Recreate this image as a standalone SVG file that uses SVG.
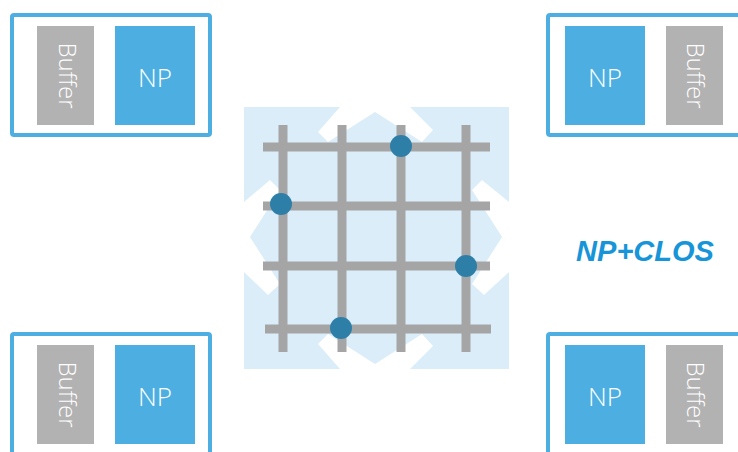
<svg xmlns="http://www.w3.org/2000/svg" width="738" height="452" viewBox="0 0 738 452">
<style>
.frame{fill:none;stroke:#4DAFE1;stroke-width:4}
.np{fill:#4DAFE1}
.buf{fill:#B2B2B2}
.t{fill:#fff;font-family:"Open Sans","DejaVu Sans",sans-serif;font-weight:300;text-anchor:middle}
.nptxt{font-size:26px}
.buftxt{font-size:24px}
.grid{stroke:#A5A5A5;stroke-width:9;fill:none}
.dot{fill:#2E7FA8}
.gap{fill:#fff}
</style>
<rect width="738" height="452" fill="#fff"/>
<g id="switch">
  <rect x="244" y="107" width="265" height="262" fill="#DBEDF8"/>
  <g transform="translate(376,238)" class="gap">
    <polygon points="-36,-131 -58,-106 -48,-96 -1,-126 46,-96 57,-108 34,-131"/>
    <polygon points="-36,131 -58,106 -48,96 -1,126 46,96 57,108 34,131"/>
    <polygon points="-132,-36 -106,-58 -96,-48 -126,-1 -96,46 -108,57 -132,34"/>
    <polygon points="133,-36 106,-58 96,-48 126,-1 96,46 108,57 133,34"/>
  </g>
</g>
<g id="connectors">
  <path class="grid" d="M263,147H490M263,206H490M263,266H490M265,329H491M283,125V352M342,125V352M401,125V352M466,125V352"/>
  <circle class="dot" cx="401" cy="146" r="11"/>
  <circle class="dot" cx="281" cy="204" r="11"/>
  <circle class="dot" cx="466" cy="266" r="11"/>
  <circle class="dot" cx="341" cy="328" r="11"/>
</g>
<g id="node-tl">
  <rect class="frame" x="12" y="15" width="198" height="120" rx="2"/>
  <rect class="buf" x="37" y="26" width="57" height="99"/>
  <text class="t buftxt" transform="translate(59,75.5) rotate(90)">Buffer</text>
  <rect class="np" x="115" y="26" width="80" height="99"/>
  <text class="t nptxt" x="155" y="87">NP</text>
</g>
<g id="node-tr">
  <rect class="frame" x="548" y="15" width="200" height="120" rx="2"/>
  <rect class="np" x="565" y="26" width="80" height="99"/>
  <text class="t nptxt" x="605" y="87">NP</text>
  <rect class="buf" x="666" y="26" width="57" height="99"/>
  <text class="t buftxt" transform="translate(687,75.5) rotate(90)">Buffer</text>
</g>
<g id="node-bl">
  <rect class="frame" x="12" y="334" width="198" height="130" rx="2"/>
  <rect class="buf" x="37" y="345" width="57" height="99"/>
  <text class="t buftxt" transform="translate(59,394.5) rotate(90)">Buffer</text>
  <rect class="np" x="115" y="345" width="80" height="99"/>
  <text class="t nptxt" x="155" y="406">NP</text>
</g>
<g id="node-br">
  <rect class="frame" x="548" y="334" width="200" height="130" rx="2"/>
  <rect class="np" x="565" y="345" width="80" height="99"/>
  <text class="t nptxt" x="605" y="406">NP</text>
  <rect class="buf" x="666" y="345" width="57" height="99"/>
  <text class="t buftxt" transform="translate(687,394.5) rotate(90)">Buffer</text>
</g>
<g id="label">
  <text x="645" y="261" fill="#1795D8" font-family="'Liberation Sans',Arial,sans-serif" font-weight="bold" font-style="italic" font-size="29" text-anchor="middle">NP+CLOS</text>
</g>
</svg>
